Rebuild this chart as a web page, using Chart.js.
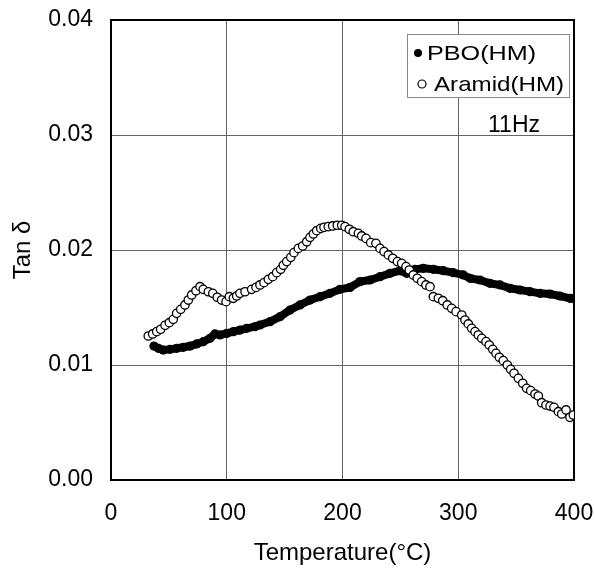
<!DOCTYPE html>
<html><head><meta charset="utf-8">
<script src="https://cdn.jsdelivr.net/npm/chart.js@4/dist/chart.umd.min.js"></script>
<style>html,body{margin:0;padding:0;background:#fff}#wrap{width:595px;height:568px}</style>
</head><body><div id="wrap"><canvas id="c" width="595" height="568"></canvas></div>
<script>
const xTicks = [0, 100, 200, 300, 400];
const yTicks = [0, 0.01, 0.02, 0.03, 0.04];
const seriesNames = ['PBO(HM)', 'Aramid(HM)'];
const noteText = '11Hz';
const xTitle = 'Temperature(°C)';
const yTitle = 'Tan δ';

const pboT = [37.1,40.9,45.2,51.0,56.8,62.5,68.3,74.0,79.7,85.5,89.8,94.2,100.0,105.7,111.4,117.2,
  124.4,128.7,137.4,146.0,154.6,163.3,171.9,180.6,189.2,197.8,206.5,215.1,
  223.8,232.4,241.0,249.7,255.5,262.6,269.8,278.5,287.1,295.7,
  304.4,310.2,318.8,327.4,336.1,344.7,353.4,362.0,370.6,379.3,387.9,396.5,399.4];
const pboTan = [0.01165,0.01145,0.01130,0.01136,0.01145,0.01154,0.01165,0.01183,0.01203,0.01232,0.01270,0.01261,0.01275,0.01290,0.01304,0.01319,
  0.01333,0.01348,0.01377,0.01420,0.01478,0.01522,0.01565,0.01594,0.01623,0.01658,0.01675,0.01725,
  0.01739,0.01768,0.01797,0.01820,0.01797,0.01832,0.01841,0.01832,0.01820,0.01803,
  0.01783,0.01754,0.01739,0.01710,0.01696,0.01667,0.01652,0.01638,0.01623,0.01617,0.01600,0.01580,0.01580];

const aramidT = [32.2,36.0,39.5,42.9,46.7,50.4,53.8,56.7,60.2,63.9,66.8,69.7,73.4,76.9,79.7,84.1,87.9,91.8,95.6,99.4,102.2,105.7,108.6,111.4,115.8,
  121.5,125.3,128.7,132.2,135.9,139.7,143.1,146.6,148.9,151.8,155.3,158.1,161.8,165.6,169.1,171.9,174.8,177.7,181.2,184.0,187.7,191.5,195.5,199.3,202.2,205.9,209.3,213.7,
  216.6,220.3,224.4,228.9,232.4,235.9,239.6,243.4,247.4,251.1,254.9,257.7,261.2,264.6,268.4,272.1,275.6,278.5,282.8,286.6,290.5,294.3,298.1,
  303.0,305.8,308.7,311.6,314.5,317.3,320.3,324.0,326.8,329.8,332.6,335.5,338.9,342.4,345.3,348.2,351.9,355.7,359.1,362.6,366.3,369.2,372.1,375.8,379.3,382.7,386.5,389.4,393.1,396.5,399.4];
const aramidTan = [0.01252,0.01270,0.01290,0.01310,0.01345,0.01368,0.01397,0.01449,0.01484,0.01522,0.01565,0.01609,0.01646,0.01681,0.01658,0.01637,0.01623,0.01589,0.01565,0.01551,0.01594,0.01580,0.01600,0.01623,0.01637,
  0.01658,0.01675,0.01696,0.01716,0.01745,0.01768,0.01803,0.01832,0.01867,0.01899,0.01936,0.01977,0.02014,0.02035,0.02072,0.02110,0.02139,0.02168,0.02188,0.02197,0.02203,0.02209,0.02215,0.02215,0.02203,0.02180,0.02159,0.02145,
  0.02122,0.02101,0.02064,0.02058,0.02014,0.01986,0.01957,0.01928,0.01899,0.01884,0.01855,0.01826,0.01783,0.01754,0.01725,0.01696,0.01681,0.01594,0.01580,0.01559,0.01522,0.01493,0.01464,
  0.01435,0.01391,0.01357,0.01319,0.01290,0.01261,0.01232,0.01203,0.01174,0.01136,0.01101,0.01067,0.01038,0.01000,0.00962,0.00928,0.00884,0.00841,0.00797,0.00777,0.00748,0.00730,0.00672,0.00652,0.00643,0.00632,0.00594,0.00574,0.00609,0.00545,0.00565];

const FONT = 'Liberation Sans, Arial, Helvetica, sans-serif';

const framePlugin = {
  id: 'frame',
  beforeDatasetsDraw(chart) {
    const a = chart.chartArea, c = chart.ctx;
    c.save();
    c.strokeStyle = '#000';
    c.lineWidth = 2;
    c.strokeRect(a.left, a.top, a.right - a.left, a.bottom - a.top);
    c.restore();
  }
};

const legendPlugin = {
  id: 'boxLegend',
  afterDraw(chart) {
    const c = chart.ctx;
    c.save();
    c.fillStyle = '#fff';
    c.fillRect(407, 34, 162, 63);
    c.strokeStyle = '#888';
    c.lineWidth = 1;
    c.strokeRect(407.5, 34.5, 162, 63);
    c.beginPath(); c.arc(418, 53, 4, 0, Math.PI * 2); c.fillStyle = '#000'; c.fill();
    c.beginPath(); c.arc(422, 84, 4, 0, Math.PI * 2); c.fillStyle = '#fff'; c.fill();
    c.strokeStyle = '#000'; c.lineWidth = 1.2; c.stroke();
    c.fillStyle = '#000';
    c.font = '21px ' + FONT;
    c.textBaseline = 'alphabetic';
    c.textAlign = 'left';
    const drawScaled = (t, x, y, sx) => { c.save(); c.translate(x, y); c.scale(sx, 1); c.fillText(t, 0, 0); c.restore(); };
    drawScaled(seriesNames[0], 427, 60, 1.2);
    drawScaled(seriesNames[1], 434, 91, 1.15);
    c.font = '23px ' + FONT;
    drawScaled(noteText, 488, 132, 1.0);
    c.restore();
  }
};

new Chart(document.getElementById('c').getContext('2d'), {
  type: 'scatter',
  data: {
    datasets: [
      {
        label: seriesNames[1],
        data: aramidT.map((t, i) => ({ x: t, y: aramidTan[i] })),
        order: 0,
        showLine: false,
        pointRadius: 4.2,
        pointBackgroundColor: '#fff',
        pointBorderColor: '#000',
        pointBorderWidth: 1.3
      },
      {
        label: seriesNames[0],
        data: pboT.map((t, i) => ({ x: t, y: pboTan[i] })),
        order: 1,
        showLine: true,
        borderColor: '#000',
        borderWidth: 8,
        tension: 0,
        pointRadius: 4.6,
        pointBackgroundColor: '#000',
        pointBorderColor: '#000',
        pointBorderWidth: 0
      }
    ]
  },
  options: {
    responsive: false,
    animation: false,
    events: [],
    layout: { padding: { top: 20, right: 21, left: 0, bottom: 0 } },
    plugins: { legend: { display: false }, tooltip: { enabled: false } },
    scales: {
      x: {
        type: 'linear', min: 0, max: 400,
        afterBuildTicks: s => { s.ticks = xTicks.map(v => ({ value: v })); },
        afterFit: s => { s.height = 88; s.paddingLeft = 0; s.paddingRight = 0; },
        grid: { color: '#666', lineWidth: 1, drawTicks: false },
        border: { display: false },
        ticks: { padding: 20, color: '#000', maxRotation: 0, font: { family: FONT, size: 23 }, callback: v => String(v) },
        title: { display: true, text: xTitle, color: '#000', font: { family: FONT, size: 24 }, padding: { top: 0, bottom: 0 } }
      },
      y: {
        type: 'linear', min: 0, max: 0.04,
        afterBuildTicks: s => { s.ticks = yTicks.map(v => ({ value: v })); },
        afterFit: s => { s.width = 111; s.paddingTop = 0; s.paddingBottom = 0; },
        grid: { color: '#666', lineWidth: 1, drawTicks: false },
        border: { display: false },
        ticks: { padding: 18, color: '#000', font: { family: FONT, size: 23 }, callback: v => Number(v).toFixed(2) },
        title: { display: true, text: yTitle, color: '#000', font: { family: FONT, size: 24 }, padding: { top: 9, bottom: 0 } }
      }
    }
  },
  plugins: [framePlugin, legendPlugin]
});
</script>
</body></html>
